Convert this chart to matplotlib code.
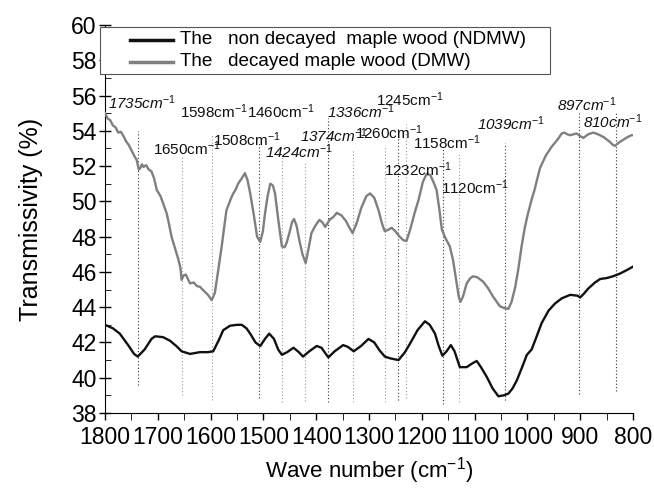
import matplotlib
matplotlib.use("Agg")
import matplotlib.pyplot as plt
from matplotlib.ticker import MultipleLocator
from matplotlib.patches import Rectangle
from matplotlib.lines import Line2D

plt.rcParams['font.family'] = ['Liberation Sans', 'DejaVu Sans']
plt.rcParams['mathtext.fontset'] = 'custom'
plt.rcParams['mathtext.rm'] = 'Liberation Sans'
plt.rcParams['mathtext.it'] = 'Liberation Sans:italic'

# ---- data ----
ndmw_x = [1800, 1785, 1772, 1755, 1745, 1738, 1725, 1712, 1705, 1690, 1677, 1665, 1655, 1639, 1620,
          1605, 1595, 1585, 1576, 1563, 1550, 1541, 1532, 1525, 1515, 1506, 1497, 1489, 1480, 1472,
          1465, 1455, 1443, 1433, 1425, 1413, 1399, 1390, 1377, 1365, 1349, 1340, 1329, 1315, 1301,
          1290, 1280, 1270, 1260, 1244, 1232, 1222, 1208, 1194, 1185, 1175, 1168, 1161, 1153, 1145,
          1138, 1128, 1115, 1105, 1096, 1088, 1077, 1066, 1055, 1045, 1036, 1028, 1020, 1010, 1001,
          992, 983, 973, 960, 948, 935, 919, 905, 900, 892, 885, 872, 862, 850, 838, 825, 812, 803, 800]
ndmw_y = [43.0, 42.8, 42.5, 41.8, 41.35, 41.2, 41.6, 42.2, 42.35, 42.3, 42.1, 41.8, 41.5, 41.35, 41.45,
          41.45, 41.5, 42.1, 42.7, 42.95, 43.0, 43.0, 42.8, 42.5, 42.0, 41.8, 42.2, 42.5, 42.2, 41.6,
          41.3, 41.45, 41.7, 41.45, 41.2, 41.5, 41.8, 41.7, 41.15, 41.5, 41.85, 41.75, 41.5, 41.8, 42.2,
          42.0, 41.55, 41.2, 41.1, 41.0, 41.45, 41.95, 42.7, 43.2, 43.0, 42.5, 41.8, 41.25, 41.5, 41.85,
          41.5, 40.6, 40.6, 40.8, 40.95, 40.6, 40.05, 39.4, 38.95, 39.0, 39.1, 39.4, 39.85, 40.6, 41.3,
          41.6, 42.3, 43.1, 43.8, 44.2, 44.5, 44.7, 44.65, 44.55, 44.8, 45.05, 45.4, 45.6, 45.65, 45.75,
          45.9, 46.1, 46.25, 46.3]

dmw_x = [1800, 1795, 1790, 1785, 1780, 1775, 1770, 1765, 1760, 1755, 1750, 1745, 1740, 1736, 1733,
         1730, 1727, 1722, 1717, 1712, 1707, 1702, 1695, 1690, 1683, 1678, 1674, 1668, 1661, 1657,
         1655, 1651, 1647, 1643, 1639, 1632, 1626, 1620, 1612, 1605, 1598, 1592, 1586, 1579, 1574,
         1570, 1566, 1561, 1557, 1552, 1548, 1541, 1535, 1530, 1525, 1518, 1512, 1506, 1501, 1497,
         1492, 1487, 1482, 1478, 1472, 1465, 1460, 1456, 1450, 1446, 1442, 1437, 1432, 1426, 1420,
         1414, 1409, 1402, 1394, 1388, 1383, 1374, 1368, 1361, 1352, 1344, 1337, 1331, 1323, 1315,
         1305, 1298, 1290, 1282, 1275, 1270, 1263, 1257, 1250, 1242, 1235, 1229, 1222, 1214, 1206,
         1198, 1191, 1184, 1178, 1172, 1167, 1162, 1155, 1147, 1141, 1135, 1130, 1127, 1122, 1115,
         1108, 1103, 1095, 1084, 1075, 1065, 1058, 1052, 1044, 1036, 1030, 1023, 1017, 1011, 1005,
         999, 992, 986, 982, 976, 965, 954, 943, 935, 930, 924, 919, 913, 907, 900,
         894, 885, 875, 866, 856, 845, 838, 834, 826, 818, 810, 803, 800]
dmw_y = [55.0, 54.7, 54.6, 54.3, 54.2, 53.9, 53.95, 53.7, 53.4, 53.2, 52.9, 52.6, 52.35, 51.8, 51.9,
         52.1, 51.95, 52.05, 51.8, 51.7, 51.3, 50.65, 50.3, 49.9, 49.3, 48.6, 48.0, 47.4, 46.7, 46.2,
         45.55, 45.8, 45.85, 45.6, 45.35, 45.4, 45.2, 45.15, 44.9, 44.7, 44.4, 44.8, 46.0, 47.45, 48.6,
         49.5, 49.8, 50.2, 50.45, 50.7, 51.0, 51.3, 51.6, 51.2, 50.45, 49.2, 48.0, 47.7, 48.3, 49.3,
         50.3, 51.0, 50.9, 50.45, 49.0, 47.45, 47.4, 47.65, 48.3, 48.8, 49.0, 48.6, 47.8, 47.0, 46.5,
         47.4, 48.2, 48.6, 48.95, 48.8, 48.55, 48.98, 49.1, 49.35, 49.2, 48.9, 48.5, 48.2, 48.8, 49.6,
         50.3, 50.45, 50.2, 49.5, 48.7, 48.3, 48.4, 48.5, 48.3, 48.0, 47.8, 47.75, 48.4, 49.3, 50.1,
         51.1, 51.55, 51.5, 51.1, 50.65, 49.6, 48.4, 47.9, 47.45, 46.7, 45.55, 44.6, 44.3, 44.6, 45.35,
         45.65, 45.75, 45.7, 45.45, 45.1, 44.6, 44.3, 44.05, 43.95, 43.9, 44.3, 45.15, 46.2, 47.45, 48.5,
         49.3, 50.1, 50.7, 51.2, 51.9, 52.6, 53.1, 53.5, 53.85, 53.9, 53.8, 53.75, 53.8, 53.85, 53.7,
         53.6, 53.8, 53.9, 53.8, 53.65, 53.4, 53.2, 53.15, 53.35, 53.5, 53.65, 53.75, 53.75]

series_labels = ["The   non decayed  maple wood (NDMW)", "The   decayed maple wood (DMW)"]

# peak annotations
peak_labels = ["1735", "1650", "1598", "1508", "1460", "1424", "1374", "1336", "1260",
               "1245", "1232", "1158", "1120", "1039", "897", "810"]
peak_line_x = [1738, 1655, 1598, 1508, 1465, 1422, 1378, 1331, 1270,
               1245, 1230, 1160, 1130, 1042, 902, 832]
peak_line_top = [54.0, 52.6, 53.75, 53.3, 52.5, 52.2, 54.7, 52.9, 53.2,
                 54.2, 54.4, 53.0, 52.8, 53.3, 55.0, 55.1]
peak_line_bottom = [39.6, 39.0, 38.75, 38.85, 38.6, 38.7, 38.6, 38.6, 38.6,
                    38.75, 38.85, 38.5, 38.6, 38.75, 39.1, 39.25]
label_x = [1794, 1709, 1658, 1595, 1531, 1497, 1431, 1380, 1327,
           1287, 1272, 1217, 1164, 1095, 944, 895]
label_y = [55.6, 53.0, 55.1, 53.5, 55.1, 52.8, 53.75, 55.1, 53.9,
           55.75, 51.8, 53.3, 50.8, 54.4, 55.5, 54.5]
label_italic = [True, False, False, False, False, True, True, True, False,
                False, False, False, False, True, True, True]
line_dark = [True, False, False, True, False, False, True, False, False,
             True, False, True, False, True, True, True]

W, H = 654, 490
fig = plt.figure(figsize=(W/100, H/100), dpi=100)
ax = fig.add_axes([105/W, 1-413/H, 528/W, 388/H])

for lx, top, bot, dark in zip(peak_line_x, peak_line_top, peak_line_bottom, line_dark):
    ax.plot([lx, lx], [bot, top], linestyle=(0, (1, 2)), linewidth=0.8,
            color='#333333' if dark else '#9a9a9a', zorder=1)

ax.plot(ndmw_x, ndmw_y, color='#111111', linewidth=1.7, zorder=3)
ax.plot(dmw_x, dmw_y, color='#7f7f7f', linewidth=1.7, zorder=3)

for lab, tx, ty, it in zip(peak_labels, label_x, label_y, label_italic):
    ax.text(tx, ty, lab + "cm$^{-1}$", fontsize=11, style='italic' if it else 'normal',
            ha='left', va='center', color='#111111', zorder=4)

ax.set_xlim(1800, 800)
ax.set_ylim(38, 60)
ax.xaxis.set_major_locator(MultipleLocator(100))
ax.xaxis.set_minor_locator(MultipleLocator(50))
ax.yaxis.set_major_locator(MultipleLocator(2))
ax.yaxis.set_minor_locator(MultipleLocator(1))
ax.spines['top'].set_visible(False)
ax.spines['right'].set_visible(False)
ax.tick_params(axis='both', which='major', labelsize=16.5, width=1)
ax.tick_params(axis='x', which='both', direction='out', length=5, top=False, pad=4)
ax.tick_params(axis='y', which='major', direction='inout', length=8, pad=2)
ax.tick_params(axis='y', which='minor', direction='in', length=4)

ax.set_xlabel("Wave number (cm$^{-1}$)", fontsize=16, labelpad=5)
ax.set_ylabel("Transmissivity (%)", fontsize=18, labelpad=20)

# legend box drawn in figure pixels
fig.patches.append(Rectangle((100/W, 1-74/H), 450/W, 47/H, transform=fig.transFigure,
                             facecolor='white', edgecolor='#555555', linewidth=0.8, zorder=5))
legend_colors = ['#111111', '#7f7f7f']
legend_rows = [40, 62]
for lab, col, yy in zip(series_labels, legend_colors, legend_rows):
    fig.lines.append(Line2D([130/W, 173/W], [1-yy/H, 1-yy/H], transform=fig.transFigure,
                            color=col, linewidth=2.5, zorder=6))
    fig.text(180/W, 1-yy/H, lab, fontsize=13.6, ha='left', va='center', zorder=6)

fig.savefig("out.png", dpi=100)
